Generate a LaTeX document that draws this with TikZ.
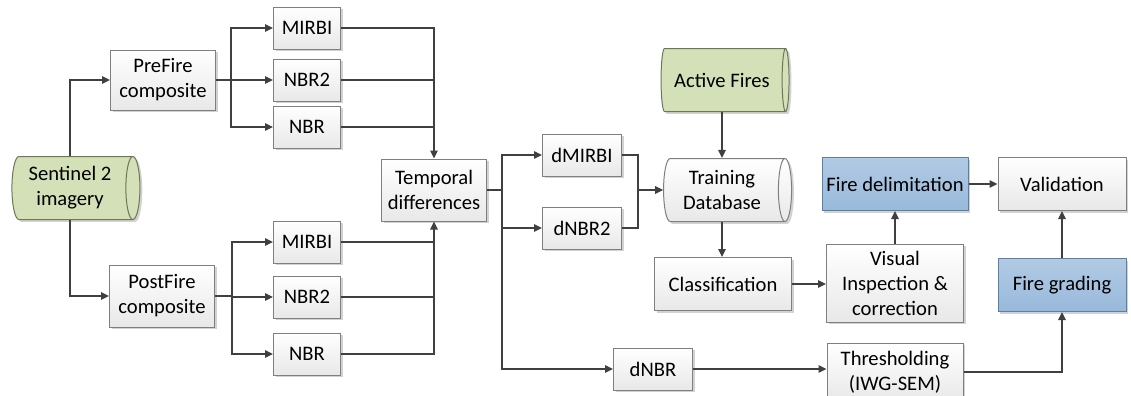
\documentclass[tikz,border=0pt]{standalone}
\usepackage{fontspec}
\setmainfont{Carlito}
\usepackage{xcolor}
\usepackage{tikz}
\usetikzlibrary{shapes.geometric,arrows.meta,shadows}
\definecolor{linea}{HTML}{404040}
\definecolor{bordo}{HTML}{7F7F7F}
\definecolor{azz}{HTML}{98B9DB}
\definecolor{azzbordo}{HTML}{5B7FA6}
\definecolor{oliva}{HTML}{D3E0B8}
\definecolor{olivabordo}{HTML}{6E7658}
\tikzset{
  ombra/.style={drop shadow={shadow xshift=1.2pt,shadow yshift=-1.2pt,fill=black!35}},
  box/.style={draw=bordo, line width=0.5pt, top color=white, bottom color=black!9,
    align=center, inner sep=2pt, ombra,
    font=\fontsize{10.3}{12.5}\selectfont},
  idx/.style={box, minimum width=33.5pt, minimum height=21pt},
  dbox/.style={box, minimum width=39.5pt, minimum height=21pt},
  bluebox/.style={box, draw=azzbordo, top color=azz!75, bottom color=azz, minimum height=26.5pt},
  db/.style={cylinder, shape border rotate=0, aspect=0.25, draw=olivabordo, line width=0.5pt,
    fill=oliva, align=center, ombra, minimum width=31.5pt, minimum height=64pt,
    font=\fontsize{10.3}{12.5}\selectfont},
  arr/.style={-{Triangle[length=4pt,width=3.8pt]}},
  linee/.style={draw=linea, line width=0.65pt}
}

\begin{document}
\begin{tikzpicture}[x=0.5pt,y=-0.5pt]
  \useasboundingbox (0,0) rectangle (1131,396);
  % immagini e composite
  \node[db] (sent) at (70,188) {Sentinel 2\\imagery};
  \node[box, minimum width=52.5pt, minimum height=30pt] (pre) at (163,80) {PreFire\\composite};
  \node[box, minimum width=52.5pt, minimum height=31pt] (post) at (162,296) {PostFire\\composite};
  % indici
  \node[idx] (mirbiA) at (307,28) {MIRBI};
  \node[idx] (nbr2A) at (307,80) {NBR2};
  \node[idx] (nbrA) at (307,127) {NBR};
  \node[idx] (mirbiB) at (307,242) {MIRBI};
  \node[idx] (nbr2B) at (307,297) {NBR2};
  \node[idx] (nbrB) at (307,354) {NBR};
  \node[box, minimum width=52.5pt, minimum height=31pt] (temp) at (434,190) {Temporal\\differences};
  % differenze
  \node[dbox] (dmirbi) at (582,155) {dMIRBI};
  \node[dbox] (dnbr2) at (582,228) {dNBR2};
  \node[dbox] (dnbr) at (653,369) {dNBR};
  % classificazione
  \node[db] (active) at (722,80) {Active Fires};
  \node[db, draw=bordo, top color=white, bottom color=black!9] (train) at (722,190) {Training\\Database};
  \node[box, minimum width=68.5pt, minimum height=26.5pt] (class) at (723,284) {Classification};
  \node[box, minimum width=68.5pt, minimum height=39pt] (vis) at (895,283) {Visual\\Inspection \&\\correction};
  \node[box, minimum width=68pt, minimum height=29pt] (thr) at (895,372) {Thresholding\\(IWG-SEM)};
  \node[bluebox, minimum width=73pt] (fdel) at (895,184) {Fire delimitation};
  \node[box, minimum width=64pt, minimum height=26.5pt] (valid) at (1062,184) {Validation};
  \node[bluebox, minimum width=64pt] (grad) at (1062,285) {Fire grading};
  \coordinate (merge) at (638,190);
  % collegamenti
  \begin{scope}[linee]
    \draw[arr] (sent.north) |- (pre.west);
    \draw[arr] (sent.south) |- (post.west);
    \foreach \n in {mirbiA,nbr2A,nbrA}
      \draw[arr] (pre.east) -- ++(15,0) |- (\n.west);
    \foreach \n in {mirbiB,nbr2B,nbrB}
      \draw[arr] (post.east) -- ++(17,0) |- (\n.west);
    \draw[arr] (mirbiA.east) -| (temp.north);
    \draw (nbr2A.east) -- (nbr2A.east -| temp.north);
    \draw (nbrA.east) -- (nbrA.east -| temp.north);
    \draw[arr] (nbrB.east) -| (temp.south);
    \draw (mirbiB.east) -- (mirbiB.east -| temp.south);
    \draw (nbr2B.east) -- (nbr2B.east -| temp.south);
    \foreach \n in {dmirbi,dnbr2,dnbr}
      \draw[arr] (temp.east) -- ++(15,0) |- (\n.west);
    \draw (dmirbi.east) -| (merge);
    \draw (dnbr2.east) -| (merge);
    \draw[arr] (merge) -- (train.west);
    \draw[arr] (active.south) -- (active.south |- train.north);
    \draw[arr] (train.south) -- (train.south |- class.north);
    \draw[arr] (class.east) -- (class.east -| vis.west);
    \draw[arr] (vis) -- (fdel);
    \draw[arr] (fdel) -- (valid);
    \draw[arr] (grad) -- (valid);
    \draw[arr] (dnbr.east) -- (dnbr.east -| thr.west);
    \draw[arr] (thr.east) -| (grad.south);
  \end{scope}
\end{tikzpicture}
\end{document}
